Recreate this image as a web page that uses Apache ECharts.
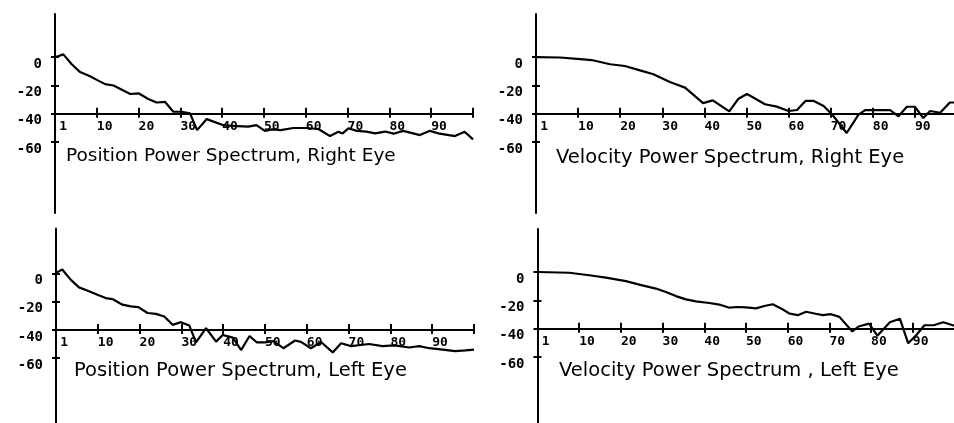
<!DOCTYPE html>
<html><head><meta charset="utf-8">
<script src="https://cdn.jsdelivr.net/npm/echarts@6/dist/echarts.min.js"></script>
<style>html,body{margin:0;padding:0;background:#fff}#c{width:954px;height:423px}</style>
</head><body><div id="c"></div>
<script>
// ---- data (frequency, dB) ----
const freqPosRight = [0, 2, 4, 6, 8.4, 10, 12, 14, 16, 18, 20, 22.3, 24.3, 26.3, 28.3, 30.3, 32.3, 34, 36.3, 40.3, 42.3, 46.2, 48.2, 50.2, 52, 54, 57, 60.2, 63, 65.8, 67.8, 68.8, 70.2, 72.2, 74.5, 76.6, 79, 81, 83.3, 87.3, 89.7, 92, 95.7, 98, 100];
const dbPosRight = [0, 2, -5, -10.5, -13.5, -16, -19, -20, -23, -26, -25.5, -29.5, -32, -31.5, -38.5, -38.5, -39.7, -51.5, -43.7, -48, -48.5, -49, -48, -52, -51, -51.5, -50, -50, -50.7, -55.7, -52.6, -53.8, -50.2, -52, -52.5, -53.8, -52.5, -54, -52, -55, -52, -54, -55.7, -52.6, -58];

const freqVelRight = [0, 5.7, 10.5, 13.2, 17.6, 21.1, 24.7, 27.9, 31.8, 35.4, 39.7, 42, 45.9, 48.1, 50.1, 51.6, 54.4, 57.2, 60, 62, 64, 66, 68.3, 70.3, 73.8, 76.6, 78.2, 84.1, 86.1, 88.1, 90, 92, 93.6, 96, 98.3, 100];
const dbVelRight = [0, -0.2, -1.3, -2, -5, -6.2, -9.3, -12, -17.5, -21.5, -32.4, -30.5, -38.3, -29.3, -26, -28.4, -33.2, -34.9, -38, -37.3, -30.9, -30.9, -34.4, -40.3, -53.5, -40.5, -37.4, -37.4, -41.7, -35, -35, -43, -38, -39.2, -32, -32];

const freqPosLeft = [0, 1.5, 3.5, 5.5, 7.9, 9.9, 11.9, 13.5, 15.9, 17.9, 19.7, 21.9, 23.9, 25.9, 27.9, 29.9, 31.9, 33.5, 35.9, 38.3, 39.9, 42.3, 44.3, 46.3, 48, 50, 52, 54.4, 57.2, 58.6, 61, 63.4, 66.2, 68.2, 70.6, 74.9, 78.1, 80.9, 84.5, 86.9, 89.3, 92.5, 95.5, 98, 100];
const dbPosLeft = [0.5, 2.9, -4.3, -9.8, -12.6, -15, -17.4, -18.1, -22.1, -23.3, -23.8, -28, -28.6, -30.5, -36.4, -34.5, -36.9, -48.8, -38.8, -48.3, -43.6, -45.5, -54.3, -44.3, -48.8, -48.8, -48, -53, -47.5, -48.5, -53, -48.6, -56, -49.5, -51.5, -50, -51.5, -51, -52.5, -51.5, -53, -54, -55, -54.5, -54];

const freqVelLeft = [0, 7.6, 12.4, 16.4, 21.2, 24.4, 28.4, 30.8, 33.2, 35.6, 38, 41.2, 43.6, 46, 48, 50, 52.4, 54.4, 56.4, 58.4, 60.4, 62.4, 64.4, 66.4, 68.4, 70.4, 72.4, 75.5, 77, 79.5, 81.5, 84.5, 86.9, 88.9, 90.8, 92.8, 95, 97.3, 100];
const dbVelLeft = [0, -0.5, -2.3, -4, -6.4, -8.9, -11.7, -14.1, -17, -19.3, -20.7, -21.9, -23, -25.2, -24.7, -25, -25.7, -24, -22.8, -25.7, -29.3, -30.5, -28.1, -29.3, -30.5, -29.8, -31.7, -42, -38.5, -36.5, -45, -35.5, -33, -50.4, -44.7, -37.6, -37.6, -35.5, -38];

const yTickValues = [0, -20, -40, -60];
const xTickValues = [10, 20, 30, 40, 50, 60, 70, 80, 90, 100];
const xLabelValues = [1, 10, 20, 30, 40, 50, 60, 70, 80, 90];
const titles = [
  'Position Power Spectrum, Right Eye',
  'Velocity Power Spectrum, Right Eye',
  'Position Power Spectrum, Left Eye',
  'Velocity Power Spectrum , Left Eye'
];
const seriesX = [freqPosRight, freqVelRight, freqPosLeft, freqVelLeft];
const seriesY = [dbPosRight, dbVelRight, dbPosLeft, dbVelLeft];

// ---- layout (pixels) ----
const layout = [
  {left: 55, width: 418, top: 14, height: 199, ymax: 30.5, tx: 66, ty: 156, fs: 18.5},
  {left: 536, width: 421, top: 14, height: 199, ymax: 30.5, tx: 556, ty: 158, fs: 19.5},
  {left: 56, width: 418, top: 228.5, height: 200, ymax: 32, tx: 74, ty: 371, fs: 19.5},
  {left: 537.5, width: 417, top: 229, height: 198.7, ymax: 30.4, tx: 559, ty: 371, fs: 19.5}
];
const YMIN = -110, XAXIS_AT = -40;
const INK = '#000';
const monoFont = '"DejaVu Sans Mono", monospace';

const grid = [], xAxis = [], yAxis = [], series = [], graphic = [];
layout.forEach((L, i) => {
  grid.push({left: L.left, top: L.top, width: L.width, height: L.height, containLabel: false, outerBoundsMode: 'none'});
  const offset = -((XAXIS_AT - YMIN) / (L.ymax - YMIN)) * L.height;
  const xBase = {
    type: 'value', gridIndex: i, min: 0, max: 100, position: 'bottom', offset: offset,
    splitLine: {show: false}
  };
  xAxis.push(Object.assign({}, xBase, {
    axisLine: {show: true, onZero: false, lineStyle: {color: INK, width: 2}},
    axisTick: {show: true, inside: false, length: 4, customValues: xTickValues, lineStyle: {color: INK, width: 2}},
    axisLabel: {show: true, customValues: xLabelValues, align: 'left', margin: 6, color: INK,
      fontFamily: monoFont, fontSize: 13, fontWeight: 'bold', showMinLabel: true, showMaxLabel: true}
  }));
  xAxis.push(Object.assign({}, xBase, {
    axisLine: {show: false, onZero: false},
    axisTick: {show: true, inside: true, length: 6, customValues: xTickValues, lineStyle: {color: INK, width: 2}},
    axisLabel: {show: false}
  }));
  const yBase = {type: 'value', gridIndex: i, min: YMIN, max: L.ymax, position: 'left', splitLine: {show: false}};
  yAxis.push(Object.assign({}, yBase, {
    axisLine: {show: true, onZero: false, lineStyle: {color: INK, width: 2}},
    axisTick: {show: true, inside: false, length: 4, customValues: yTickValues, lineStyle: {color: INK, width: 2}},
    axisLabel: {show: true, customValues: yTickValues, margin: 13, color: INK, verticalAlign: 'top',
      fontFamily: monoFont, fontSize: 14, fontWeight: 'bold'}
  }));
  yAxis.push(Object.assign({}, yBase, {
    axisLine: {show: false, onZero: false},
    axisTick: {show: true, inside: true, length: 4, customValues: yTickValues, lineStyle: {color: INK, width: 2}},
    axisLabel: {show: false}
  }));
  series.push({
    type: 'line', xAxisIndex: 2 * i, yAxisIndex: 2 * i,
    data: seriesX[i].map((f, k) => [f, seriesY[i][k]]),
    showSymbol: false, symbol: 'none',
    lineStyle: {color: INK, width: 2.2}, animation: false
  });
  graphic.push({
    type: 'text', x: L.tx, y: L.ty,
    style: {text: titles[i], fill: INK, font: L.fs + 'px "DejaVu Sans"', textVerticalAlign: 'middle', textAlign: 'left'}
  });
});

const chart = echarts.init(document.getElementById('c'), null, {renderer: 'canvas'});
chart.setOption({
  backgroundColor: '#fff',
  animation: false,
  grid, xAxis, yAxis, series, graphic
});
</script></body></html>
